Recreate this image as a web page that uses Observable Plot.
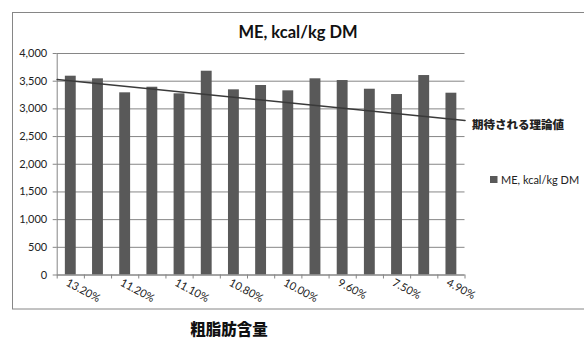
<!DOCTYPE html>
<html>
<head>
<meta charset="utf-8">
<script src="https://cdn.jsdelivr.net/npm/d3@7"></script>
<script src="https://cdn.jsdelivr.net/npm/@observablehq/plot@0.6"></script>
<style>
  html, body { margin: 0; padding: 0; background: #fff; }
  #chart { width: 584px; height: 338px; }
</style>
</head>
<body>
<div id="chart"></div>
<script>
// ME (kcal/kg DM) per sample, ordered by decreasing crude fat content
const meValues = [3590, 3543, 3290, 3391, 3272, 3680, 3344, 3422, 3326, 3543, 3512, 3355, 3259, 3602, 3283];
// crude fat labels shown on every other category
const fatLabels = ["13.20%", "11.20%", "11.10%", "10.80%", "10.00%", "9.60%", "7.50%", "4.90%"];
// expected theoretical values at the first and last edge of the category range
const expectedValues = [3530, 2790];
const yTicks = [0, 500, 1000, 1500, 2000, 2500, 3000, 3500, 4000];
const chartTitle = "ME, kcal/kg DM";
const seriesName = "ME, kcal/kg DM";
const expectedName = "期待される理論値";
const xTitle = "粗脂肪含量";

const n = meValues.length;
const bars = meValues.map((v, i) => ({ k: i + 1, v }));
const edges = d3.range(0.5, n + 1, 1);
const labelPos = fatLabels.map((_, i) => 1 + 2 * i);
const expected = [
  { k: 0.5, v: expectedValues[0] },
  { k: n + 0.5, v: expectedValues[1] }
];

const gray = "#868686";
const barFill = "#595959";
const latin = "Lato, 'Open Sans', sans-serif";
const cjk = "'Noto Sans CJK JP', sans-serif";

const plot = Plot.plot({
  width: 584,
  height: 338,
  marginLeft: 56.7,
  marginRight: 119.5,
  marginTop: 53,
  marginBottom: 63.5,
  style: { fontFamily: latin, fontSize: "11px", color: "#222", background: "#fff" },
  x: { domain: [0.5, n + 0.5], axis: null, label: null },
  y: { domain: [0, 4000], axis: null, label: null },
  marks: [
    Plot.gridY(yTicks, { stroke: gray, strokeOpacity: 1 }),
    Plot.rectY(bars, { x1: d => d.k - 0.2, x2: d => d.k + 0.2, y: "v", fill: barFill }),
    Plot.ruleX([0.5], { stroke: gray }),
    Plot.ruleY([0], { stroke: gray }),
    Plot.axisY(yTicks, { tickSize: 4, tickPadding: 6, stroke: gray, tickFormat: d3.format(","), fill: "#222", label: null }),
    Plot.axisX(edges, { tickSize: 4, stroke: gray, tickFormat: () => "", label: null }),
    Plot.axisX(labelPos, {
      tickSize: 0, tickPadding: 7, tickRotate: 28, dx: -4,
      tickFormat: d => fatLabels[(d - 1) / 2], fill: "#222", label: null
    }),
    Plot.line(expected, { x: "k", y: "v", stroke: "#3a3a3a", strokeWidth: 1.6 }),
    Plot.text([expected[1]], {
      x: "k", y: "v", text: () => expectedName, textAnchor: "start",
      dx: 7, dy: 5, fontWeight: 900, fontSize: 11.5, fontFamily: cjk, fill: "#222"
    })
  ]
});

const svg = d3.select(plot);

// chart frame
svg.insert("rect", ":first-child")
  .attr("x", 12.5).attr("y", 12.5).attr("width", 620).attr("height", 296.5)
  .attr("fill", "none").attr("stroke", gray);

// title
svg.append("text")
  .attr("x", 298).attr("y", 38).attr("text-anchor", "middle")
  .attr("font-family", latin).attr("font-weight", "bold").attr("font-size", 16.5)
  .attr("fill", "#111").text(chartTitle);

// legend
const lg = svg.append("g").attr("transform", "translate(490,176)");
lg.append("rect").attr("width", 7.5).attr("height", 7).attr("fill", barFill);
lg.append("text").attr("x", 11).attr("y", 7.5).attr("text-anchor", "start")
  .attr("font-family", latin).attr("font-size", 11).attr("fill", "#222").text(seriesName);

// x-axis title below the frame
svg.append("text")
  .attr("x", 229).attr("y", 335).attr("text-anchor", "middle")
  .attr("font-family", cjk).attr("font-weight", 900).attr("font-size", 15.5)
  .attr("fill", "#111").text(xTitle);

document.getElementById("chart").appendChild(plot);
</script>
</body>
</html>
